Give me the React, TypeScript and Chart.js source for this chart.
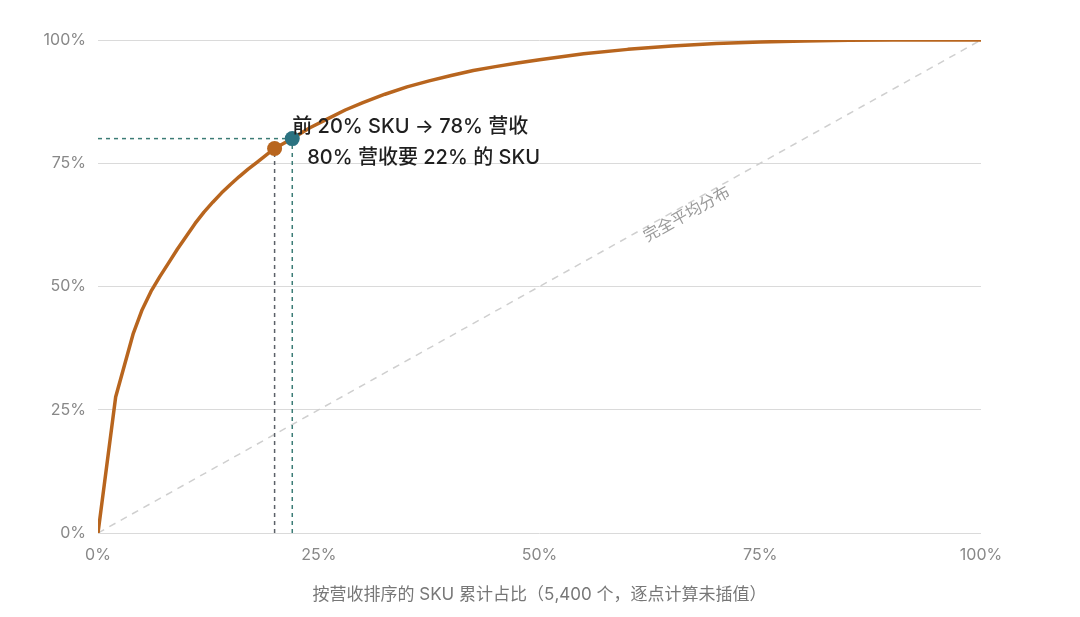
import React, { useEffect, useRef } from "react";
import { Chart, registerables } from "chart.js";

Chart.register(...registerables);

// Cumulative share of SKUs (x, %) and cumulative share of revenue (y, %)
const skuShare = [0, 2, 4, 5, 6, 7, 8, 9, 10, 11, 12, 13, 14, 15, 16, 17, 18, 19, 20, 21, 22, 24, 26, 28, 30, 32.5, 35, 37.5, 40, 42.5, 45, 47.5, 50, 55, 60, 65, 70, 75, 80, 85, 90, 95, 100];
const revenueShare = [0, 27.6, 40.5, 45.3, 49.0, 52.0, 54.8, 57.6, 60.2, 62.8, 65.1, 67.1, 69.0, 70.7, 72.3, 73.8, 75.2, 76.6, 78.0, 79.0, 80.0, 82.2, 84.0, 85.8, 87.3, 89.0, 90.5, 91.7, 92.8, 93.8, 94.6, 95.35, 96.0, 97.2, 98.1, 98.8, 99.3, 99.6, 99.8, 99.93, 100, 100, 100];

const equalLine = [0, 100];
const markTop20 = { x: 20, y: 78 };
const mark80 = { x: 22, y: 80 };
const xTicksStep = 25;
const yTicksStep = 25;

const annot1 = "前 20% SKU → 78% 营收";
const annot2 = "80% 营收要 22% 的 SKU";
const diagLabel = "完全平均分布";
const xTitle = "按营收排序的 SKU 累计占比（5,400 个，逐点计算未插值）";

const FONT = "Inter, 'Noto Sans CJK SC', sans-serif";
const ORANGE = "#b8651e";
const TEAL = "#2b7280";
const TEAL_LINE = "#3c7c76";

const labelPlugin = {
  id: "labels",
  afterDatasetsDraw(chart: any) {
    const { ctx, scales } = chart;
    const xs = scales.x;
    const ys = scales.y;
    ctx.save();
    const p0x = xs.getPixelForValue(0);
    const p0y = ys.getPixelForValue(0);
    const p1x = xs.getPixelForValue(100);
    const p1y = ys.getPixelForValue(100);
    const ang = Math.atan2(p1y - p0y, p1x - p0x);
    const lx = xs.getPixelForValue(66.2);
    const ly = ys.getPixelForValue(66.2);
    ctx.translate(lx, ly);
    ctx.rotate(ang);
    ctx.font = `400 16px ${FONT}`;
    ctx.fillStyle = "#9a9a9a";
    ctx.textAlign = "center";
    ctx.textBaseline = "middle";
    ctx.fillText(diagLabel, 0, 9);
    ctx.restore();

    ctx.save();
    const tx = xs.getPixelForValue(mark80.x);
    const ty = ys.getPixelForValue(mark80.y);
    ctx.font = `500 20px ${FONT}`;
    ctx.fillStyle = "#1f1f1f";
    ctx.textAlign = "left";
    ctx.textBaseline = "middle";
    ctx.fillText(annot1, tx, ty - 12);
    ctx.fillText(annot2, tx + 15, ty + 19);
    ctx.restore();
  },
};

export default function App() {
  const ref = useRef<HTMLCanvasElement | null>(null);
  useEffect(() => {
    if (!ref.current) return;
    const curve = skuShare.map((x, i) => ({ x, y: revenueShare[i] }));
    const chart = new Chart(ref.current, {
      type: "line",
      data: {
        datasets: [
          {
            label: "marks20",
            data: [markTop20],
            showLine: false,
            pointRadius: 7.5,
            pointBackgroundColor: ORANGE,
            pointBorderWidth: 0,
            order: 0,
          },
          {
            label: "marks80",
            data: [mark80],
            showLine: false,
            pointRadius: 7.5,
            pointBackgroundColor: TEAL,
            pointBorderWidth: 0,
            order: 0,
          },
          {
            label: "curve",
            data: curve,
            borderColor: ORANGE,
            borderWidth: 3.5,
            pointRadius: 0,
            tension: 0,
            fill: false,
            borderJoinStyle: "round",
            order: 1,
          },
          {
            label: "h80",
            data: [{ x: 0, y: mark80.y }, { x: mark80.x, y: mark80.y }],
            borderColor: TEAL_LINE,
            borderWidth: 1.5,
            borderDash: [4, 4],
            pointRadius: 0,
            order: 2,
          },
          {
            label: "v22",
            data: [{ x: mark80.x, y: 0 }, { x: mark80.x, y: mark80.y }],
            borderColor: TEAL_LINE,
            borderWidth: 1.5,
            borderDash: [4, 4],
            pointRadius: 0,
            order: 2,
          },
          {
            label: "v20",
            data: [{ x: markTop20.x, y: 0 }, { x: markTop20.x, y: markTop20.y }],
            borderColor: "#5b6068",
            borderWidth: 1.5,
            borderDash: [4, 4],
            pointRadius: 0,
            order: 2,
          },
          {
            label: "equal",
            data: equalLine.map((v) => ({ x: v, y: v })),
            borderColor: "#cfcfcf",
            borderWidth: 1.5,
            borderDash: [7, 6],
            pointRadius: 0,
            order: 3,
          },
        ],
      },
      options: {
        animation: false,
        responsive: false,
        events: [],
        layout: { padding: { left: 0, right: 99, top: 40, bottom: 0 } },
        plugins: { legend: { display: false }, tooltip: { enabled: false } },
        scales: {
          x: {
            type: "linear",
            min: 0,
            max: 100,
            border: { display: false },
            grid: { display: false, drawTicks: false },
            ticks: {
              stepSize: xTicksStep,
              padding: 13,
              color: "#888888",
              font: { family: FONT, size: 16 },
              callback: (v: any) => `${v}%`,
            },
            title: {
              display: true,
              text: xTitle,
              color: "#777777",
              font: { family: FONT, size: 17 },
              padding: { top: 8, bottom: 12 },
            },
            afterFit: (s: any) => {
              s.height = 84;
            },
          },
          y: {
            min: 0,
            max: 100,
            border: { display: false },
            grid: { color: "#dadada", lineWidth: 1, drawTicks: false },
            ticks: {
              stepSize: yTicksStep,
              padding: 12,
              color: "#888888",
              font: { family: FONT, size: 16 },
              callback: (v: any) => `${v}%`,
            },
            afterFit: (s: any) => {
              s.width = 98;
            },
          },
        },
      },
      plugins: [labelPlugin],
    });
    return () => chart.destroy();
  }, []);
  return (
    <div style={{ position: "fixed", left: 0, top: 0, width: 1080, height: 617, background: "#fff" }}>
      <canvas ref={ref} width={1080} height={617} />
    </div>
  );
}
